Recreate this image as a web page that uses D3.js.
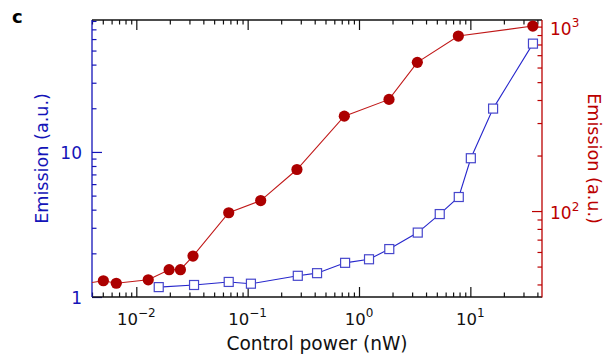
<!DOCTYPE html>
<html>
<head>
<meta charset="utf-8">
<script src="https://cdn.jsdelivr.net/npm/d3@7"></script>
<style>
  body { margin: 0; background: #fff; }
  svg { display: block; }
  text { font-family: "DejaVu Sans", Verdana, sans-serif; }
</style>
</head>
<body>
<svg id="chart" width="604" height="355"></svg>
<script>
// Blue series (left axis): open squares
const powerBlue    = [0.0159, 0.0330, 0.0676, 0.107, 0.282, 0.420, 0.750, 1.23, 1.87, 3.37, 5.31, 7.87, 10.1, 16.0, 36.5];
const emissionBlue = [1.17, 1.21, 1.27, 1.235, 1.40, 1.46, 1.72, 1.82, 2.14, 2.78, 3.73, 4.89, 9.05, 19.9, 55.8];

// Red series (right axis): filled circles; the first point lies just left of the plotted range
const powerRed    = [0.0035, 0.00506, 0.00661, 0.0128, 0.0197, 0.0249, 0.0323, 0.0676, 0.131, 0.277, 0.738, 1.86, 3.34, 7.80, 36.4];
const emissionRed = [40.5, 41.9, 40.6, 42.4, 48.1, 48.1, 57.0, 97.9, 114, 168, 327, 403, 640, 889, 1007];

// Axis ranges and ticks
const xDomain = [0.004, 44];
const yLeftDomain = [1, 81.2];
const yRightDomain = [34.2, 1086];
const xMajorTicks = [0.01, 0.1, 1, 10];
const xTickExponents = ["\u22122", "\u22121", "0", "1"];
const yLeftMajorTicks = [1, 10];
const yLeftTickLabels = ["1", "10"];
const yRightMajorTicks = [100, 1000];
const yRightTickExponents = ["2", "3"];

const panelLabel = "c";
const xTitle = "Control power (nW)";
const yTitle = "Emission (a.u.)";

const plot = { left: 92, right: 542, top: 20, bottom: 297 };
const blue = "#1414b8", blueLine = "#2626cc", blueMarker = "#4646cc";
const red = "#bb0000", redLine = "#c01818", redMarker = "#ac0000";

const svg = d3.select("#chart");

const x = d3.scaleLog().domain(xDomain).range([plot.left, plot.right]);
const yL = d3.scaleLog().domain(yLeftDomain).range([plot.bottom, plot.top]);
const yR = d3.scaleLog().domain(yRightDomain).range([plot.bottom, plot.top]);

const minorOf = (scale, majors) => scale.ticks().filter(t => !majors.some(m => Math.abs(m - t) / m < 1e-9));

svg.append("defs").append("clipPath").attr("id", "plotClip")
  .append("rect")
  .attr("x", plot.left).attr("y", plot.top)
  .attr("width", plot.right - plot.left).attr("height", plot.bottom - plot.top);

// Tick marks (all pointing into the plot)
function tickAxis(axisFn, scale, values, size, transform, color) {
  const g = svg.append("g").attr("transform", transform)
    .call(axisFn(scale).tickValues(values).tickSizeInner(size).tickSizeOuter(0).tickFormat(""));
  g.select(".domain").remove();
  g.selectAll(".tick line").attr("stroke", color).attr("stroke-width", 1.2);
  return g;
}

const xMinor = minorOf(x, xMajorTicks);
tickAxis(d3.axisBottom, x, xMajorTicks, -10, `translate(0,${plot.bottom})`, "#111");
tickAxis(d3.axisBottom, x, xMinor, -4.5, `translate(0,${plot.bottom})`, "#111");
tickAxis(d3.axisTop, x, xMajorTicks, -10, `translate(0,${plot.top})`, "#111");
tickAxis(d3.axisTop, x, xMinor, -4.5, `translate(0,${plot.top})`, "#111");

tickAxis(d3.axisLeft, yL, yLeftMajorTicks, -10, `translate(${plot.left},0)`, blue);
tickAxis(d3.axisLeft, yL, minorOf(yL, yLeftMajorTicks), -4.5, `translate(${plot.left},0)`, blue);

tickAxis(d3.axisRight, yR, yRightMajorTicks, -10, `translate(${plot.right},0)`, red);
tickAxis(d3.axisRight, yR, minorOf(yR, yRightMajorTicks), -4.5, `translate(${plot.right},0)`, red);

// Frame
const frame = svg.append("g").attr("stroke-width", 1.3).attr("fill", "none");
frame.append("line").attr("x1", plot.left).attr("x2", plot.right).attr("y1", plot.top).attr("y2", plot.top).attr("stroke", "#111");
frame.append("line").attr("x1", plot.left).attr("x2", plot.right).attr("y1", plot.bottom).attr("y2", plot.bottom).attr("stroke", "#111");
frame.append("line").attr("x1", plot.left).attr("x2", plot.left).attr("y1", plot.top).attr("y2", plot.bottom).attr("stroke", blue);
frame.append("line").attr("x1", plot.right).attr("x2", plot.right).attr("y1", plot.top).attr("y2", plot.bottom + 0.6).attr("stroke", red);

// Tick labels
const xLabels = svg.append("g").attr("font-size", 16.5).attr("fill", "#111").attr("text-anchor", "middle");
xMajorTicks.forEach((v, i) => {
  const t = xLabels.append("text").attr("x", x(v)).attr("y", plot.bottom + 28);
  t.append("tspan").text("10");
  t.append("tspan").attr("dy", -8).attr("font-size", 12).text(xTickExponents[i]);
});

const yLLabels = svg.append("g").attr("font-size", 17).attr("fill", blue).attr("text-anchor", "end");
yLeftMajorTicks.forEach((v, i) => {
  yLLabels.append("text").attr("x", plot.left - 10).attr("y", yL(v) + 7).text(yLeftTickLabels[i]);
});

const yRLabels = svg.append("g").attr("font-size", 17).attr("fill", red).attr("text-anchor", "start");
yRightMajorTicks.forEach((v, i) => {
  const t = yRLabels.append("text").attr("x", plot.right + 8).attr("y", yR(v) + 8);
  t.append("tspan").text("10");
  t.append("tspan").attr("dy", -8).attr("font-size", 12).text(yRightTickExponents[i]);
});

// Axis titles
svg.append("text").attr("x", (plot.left + plot.right) / 2).attr("y", 350)
  .attr("text-anchor", "middle").attr("font-size", 18.6).attr("fill", "#111").text(xTitle);
svg.append("text").attr("transform", `translate(48,${(plot.top + plot.bottom) / 2}) rotate(-90)`)
  .attr("text-anchor", "middle").attr("font-size", 17.6).attr("fill", blue).text(yTitle);
svg.append("text").attr("transform", `translate(588,${(plot.top + plot.bottom) / 2}) rotate(90)`)
  .attr("text-anchor", "middle").attr("font-size", 17.6).attr("fill", red).text(yTitle);

svg.append("text").attr("x", 12).attr("y", 23).attr("font-size", 18).attr("font-weight", "bold")
  .attr("fill", "#000").text(panelLabel);

// Data
const redData = powerRed.map((p, i) => ({ p, e: emissionRed[i] }));
const blueData = powerBlue.map((p, i) => ({ p, e: emissionBlue[i] }));

const marks = svg.append("g").attr("clip-path", "url(#plotClip)");

marks.append("path").datum(redData)
  .attr("fill", "none").attr("stroke", redLine).attr("stroke-width", 1.1)
  .attr("d", d3.line().x(d => x(d.p)).y(d => yR(d.e)));
marks.selectAll("circle.red").data(redData).join("circle")
  .attr("class", "red")
  .attr("cx", d => x(d.p)).attr("cy", d => yR(d.e)).attr("r", 5.6)
  .attr("fill", redMarker);

marks.append("path").datum(blueData)
  .attr("fill", "none").attr("stroke", blueLine).attr("stroke-width", 1.1)
  .attr("d", d3.line().x(d => x(d.p)).y(d => yL(d.e)));
const sq = 9;
marks.selectAll("rect.blue").data(blueData).join("rect")
  .attr("class", "blue")
  .attr("x", d => x(d.p) - sq / 2).attr("y", d => yL(d.e) - sq / 2)
  .attr("width", sq).attr("height", sq)
  .attr("fill", "#fff").attr("stroke", blueMarker).attr("stroke-width", 1.2);
</script>
</body>
</html>
